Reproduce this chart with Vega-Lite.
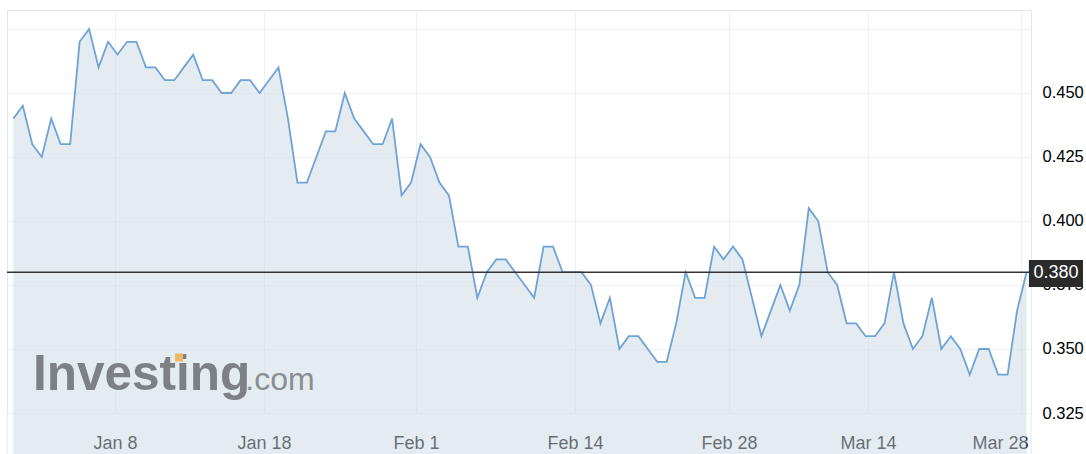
{
  "$schema": "https://vega.github.io/schema/vega-lite/v6.json",
  "width": 1024,
  "height": 403,
  "autosize": "none",
  "padding": {"left": 7, "top": 10, "right": 55, "bottom": 41},
  "background": "#ffffff",
  "config": {
    "font": "Liberation Sans",
    "view": {"stroke": "#e3e6ea"}
  },
  "data": {
    "values": [
      {"i": 0, "price": 0.440}, {"i": 1, "price": 0.445}, {"i": 2, "price": 0.430}, {"i": 3, "price": 0.425},
      {"i": 4, "price": 0.440}, {"i": 5, "price": 0.430}, {"i": 6, "price": 0.430}, {"i": 7, "price": 0.470},
      {"i": 8, "price": 0.475}, {"i": 9, "price": 0.460}, {"i": 10, "price": 0.470}, {"i": 11, "price": 0.465},
      {"i": 12, "price": 0.470}, {"i": 13, "price": 0.470}, {"i": 14, "price": 0.460}, {"i": 15, "price": 0.460},
      {"i": 16, "price": 0.455}, {"i": 17, "price": 0.455}, {"i": 18, "price": 0.460}, {"i": 19, "price": 0.465},
      {"i": 20, "price": 0.455}, {"i": 21, "price": 0.455}, {"i": 22, "price": 0.450}, {"i": 23, "price": 0.450},
      {"i": 24, "price": 0.455}, {"i": 25, "price": 0.455}, {"i": 26, "price": 0.450}, {"i": 27, "price": 0.455},
      {"i": 28, "price": 0.460}, {"i": 29, "price": 0.440}, {"i": 30, "price": 0.415}, {"i": 31, "price": 0.415},
      {"i": 32, "price": 0.425}, {"i": 33, "price": 0.435}, {"i": 34, "price": 0.435}, {"i": 35, "price": 0.450},
      {"i": 36, "price": 0.440}, {"i": 37, "price": 0.435}, {"i": 38, "price": 0.430}, {"i": 39, "price": 0.430},
      {"i": 40, "price": 0.440}, {"i": 41, "price": 0.410}, {"i": 42, "price": 0.415}, {"i": 43, "price": 0.430},
      {"i": 44, "price": 0.425}, {"i": 45, "price": 0.415}, {"i": 46, "price": 0.410}, {"i": 47, "price": 0.390},
      {"i": 48, "price": 0.390}, {"i": 49, "price": 0.370}, {"i": 50, "price": 0.380}, {"i": 51, "price": 0.385},
      {"i": 52, "price": 0.385}, {"i": 53, "price": 0.380}, {"i": 54, "price": 0.375}, {"i": 55, "price": 0.370},
      {"i": 56, "price": 0.390}, {"i": 57, "price": 0.390}, {"i": 58, "price": 0.380}, {"i": 59, "price": 0.380},
      {"i": 60, "price": 0.380}, {"i": 61, "price": 0.375}, {"i": 62, "price": 0.360}, {"i": 63, "price": 0.370},
      {"i": 64, "price": 0.350}, {"i": 65, "price": 0.355}, {"i": 66, "price": 0.355}, {"i": 67, "price": 0.350},
      {"i": 68, "price": 0.345}, {"i": 69, "price": 0.345}, {"i": 70, "price": 0.360}, {"i": 71, "price": 0.380},
      {"i": 72, "price": 0.370}, {"i": 73, "price": 0.370}, {"i": 74, "price": 0.390}, {"i": 75, "price": 0.385},
      {"i": 76, "price": 0.390}, {"i": 77, "price": 0.385}, {"i": 78, "price": 0.370}, {"i": 79, "price": 0.355},
      {"i": 80, "price": 0.365}, {"i": 81, "price": 0.375}, {"i": 82, "price": 0.365}, {"i": 83, "price": 0.375},
      {"i": 84, "price": 0.405}, {"i": 85, "price": 0.400}, {"i": 86, "price": 0.380}, {"i": 87, "price": 0.375},
      {"i": 88, "price": 0.360}, {"i": 89, "price": 0.360}, {"i": 90, "price": 0.355}, {"i": 91, "price": 0.355},
      {"i": 92, "price": 0.360}, {"i": 93, "price": 0.380}, {"i": 94, "price": 0.360}, {"i": 95, "price": 0.350},
      {"i": 96, "price": 0.355}, {"i": 97, "price": 0.370}, {"i": 98, "price": 0.350}, {"i": 99, "price": 0.355},
      {"i": 100, "price": 0.350}, {"i": 101, "price": 0.340}, {"i": 102, "price": 0.350}, {"i": 103, "price": 0.350},
      {"i": 104, "price": 0.340}, {"i": 105, "price": 0.340}, {"i": 106, "price": 0.365}, {"i": 107, "price": 0.380}
    ]
  },
  "layer": [
    {
      "mark": {"type": "area", "color": "#c9d9e5", "opacity": 0.5},
      "encoding": {
        "x": {
          "field": "i",
          "type": "quantitative",
          "scale": {"domain": [-0.67, 107.47], "nice": false, "zero": false},
          "axis": {
            "title": null,
            "orient": "bottom",
            "values": [10.74, 26.47, 42.52, 59.31, 75.58, 90.25, 106.41],
            "labelExpr": "datum.value < 20 ? 'Jan 8' : datum.value < 35 ? 'Jan 18' : datum.value < 50 ? 'Feb 1' : datum.value < 65 ? 'Feb 14' : datum.value < 80 ? 'Feb 28' : datum.value < 100 ? 'Mar 14' : 'Mar 28'",
            "grid": true,
            "gridColor": "#eef0f3",
            "ticks": false,
            "domain": false,
            "labelFlush": false,
            "labelOverlap": false,
            "labelBound": false,
            "labelPadding": 21,
            "labelFontSize": 18,
            "labelColor": "#000000",
            "labelOffset": {"condition": {"test": "datum.value > 100", "value": -21}, "value": 0}
          }
        },
        "y": {
          "field": "price",
          "type": "quantitative",
          "scale": {"domain": [0.325, 0.48242], "nice": false, "zero": false},
          "axis": {
            "title": null,
            "orient": "right",
            "values": [0.325, 0.35, 0.375, 0.4, 0.425, 0.45, 0.475],
            "labelExpr": "datum.value > 0.47 ? '' : format(datum.value, '.3f')",
            "grid": true,
            "gridColor": "#eef0f3",
            "ticks": false,
            "domain": false,
            "labelPadding": 11,
            "labelFontSize": 16.5,
            "labelColor": "#000000"
          }
        }
      }
    },
    {
      "mark": {"type": "line", "color": "#6fa3d5", "strokeWidth": 1.8},
      "encoding": {
        "x": {"field": "i", "type": "quantitative"},
        "y": {"field": "price", "type": "quantitative"}
      }
    },
    {
      "data": {"values": [{"edge": -0.67}, {"edge": 107.47}]},
      "mark": {"type": "rule", "color": "#e3e6ea", "strokeWidth": 1},
      "encoding": {
        "x": {"field": "edge", "type": "quantitative"},
        "y": {"datum": 0.325},
        "y2": {"datum": 0.3086}
      }
    },
    {
      "data": {"values": [{}]},
      "mark": {"type": "text", "text": "Investing", "fontSize": 49.5, "fontWeight": "bold", "color": "#7d8186", "align": "left", "baseline": "alphabetic"},
      "encoding": {
        "x": {"datum": 2.08},
        "y": {"datum": 0.33398}
      }
    },
    {
      "data": {"values": [{}]},
      "mark": {"type": "text", "text": ".com", "fontSize": 32, "color": "#8a8e93", "align": "left", "baseline": "alphabetic"},
      "encoding": {
        "x": {"datum": 24.5},
        "y": {"datum": 0.33398}
      }
    },
    {
      "data": {"values": [{}]},
      "mark": {"type": "point", "shape": "square", "filled": true, "size": 64, "color": "#f0b866", "opacity": 1},
      "encoding": {
        "x": {"datum": 17.5},
        "y": {"datum": 0.34668}
      }
    },
    {
      "data": {"values": [{"last": 0.38}]},
      "mark": {"type": "rule", "color": "#333333", "strokeWidth": 1.5},
      "encoding": {
        "y": {"field": "last", "type": "quantitative"}
      }
    },
    {
      "data": {"values": [{"last": 0.38}]},
      "mark": {"type": "rect", "color": "#2a2a2a"},
      "encoding": {
        "x": {"datum": 107.25},
        "x2": {"datum": 112.96},
        "y": {"datum": 0.3848},
        "y2": {"datum": 0.3742}
      }
    },
    {
      "data": {"values": [{"last": 0.38}]},
      "mark": {"type": "text", "fontSize": 18, "color": "#ffffff", "align": "center", "baseline": "middle"},
      "encoding": {
        "x": {"datum": 110.1},
        "y": {"datum": 0.3795},
        "text": {"field": "last", "type": "quantitative", "format": ".3f"}
      }
    }
  ]
}
